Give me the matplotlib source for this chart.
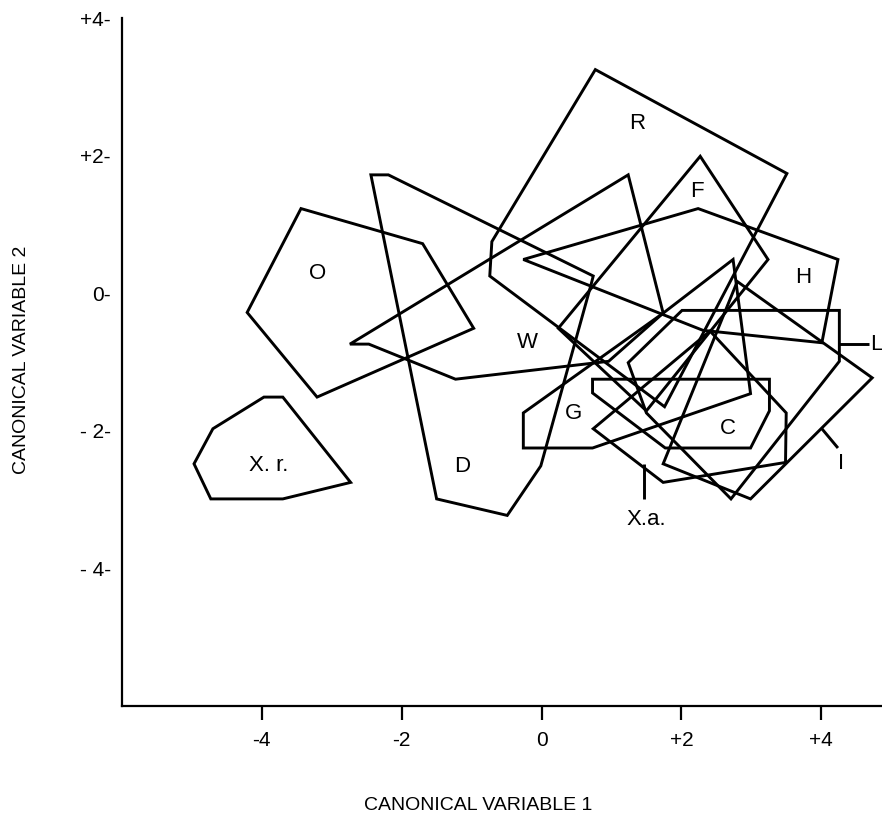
import matplotlib.pyplot as plt
from matplotlib.patches import Polygon

# group outlines (canonical variable 1, canonical variable 2)
poly_xr = [(-3.97, -1.51), (-3.70, -1.51), (-2.73, -2.75), (-3.70, -2.99),
           (-4.73, -2.99), (-4.97, -2.48), (-4.70, -1.97)]
poly_o = [(-3.44, 1.23), (-1.70, 0.72), (-0.97, -0.51), (-3.21, -1.51), (-4.21, -0.28)]
poly_d = [(-2.44, 1.72), (-2.19, 1.72), (0.74, 0.25), (0.71, 0.13),
          (-0.01, -2.51), (-0.49, -3.23), (-1.50, -2.99)]
poly_w = [(-2.74, -0.74), (-2.47, -0.74), (-1.23, -1.25), (0.96, -0.99),
          (1.74, -0.29), (1.24, 1.72)]
poly_r = [(0.77, 3.25), (3.51, 1.74), (1.76, -1.65), (-0.74, 0.25), (-0.71, 0.75)]
poly_f = [(2.27, 1.99), (3.24, 0.49), (1.50, -1.71), (0.24, -0.51)]
poly_h = [(-0.26, 0.49), (2.24, 1.23), (4.24, 0.49), (4.01, -0.72), (2.31, -0.54)]
poly_l = [(2.01, -0.25), (4.26, -0.25), (4.26, -0.99), (2.71, -2.99), (1.50, -1.74), (1.24, -1.01)]
poly_g = [(-0.26, -2.25), (-0.26, -1.74), (1.74, -0.29), (2.74, 0.49), (2.99, -1.46), (0.73, -2.25)]
poly_c = [(0.73, -1.25), (3.26, -1.25), (3.26, -1.71), (2.99, -2.25), (1.77, -2.25), (0.73, -1.45)]
poly_xa = [(2.41, -0.55), (3.50, -1.74), (3.49, -2.46), (1.74, -2.75), (0.74, -1.97)]
poly_i = [(2.80, 0.17), (4.73, -1.23), (2.99, -2.99), (1.74, -2.48)]

# group labels
label_text = ['O', 'X. r.', 'D', 'W', 'R', 'F', 'H', 'L', 'G', 'C', 'I', 'X.a.']
label_x = [-3.20, -3.90, -1.13, -0.20, 1.37, 2.23, 3.74, 4.70, 0.46, 2.66, 4.29, 1.50]
label_y = [0.29, -2.51, -2.52, -0.72, 2.46, 1.48, 0.23, -0.74, -1.75, -1.97, -2.47, -3.29]

# leader lines for labels set outside their outline
leader_l = [(4.26, -0.74), (4.68, -0.74)]
leader_i = [(4.01, -1.97), (4.24, -2.25)]
leader_xa = [(1.47, -2.48), (1.47, -2.99)]

xticks = [-4, -2, 0, 2, 4]
xtick_labels = ['-4', '-2', '0', '+2', '+4']
yticks = [4, 2, 0, -2, -4]
ytick_labels = ['+4-', '+2-', '0-', '- 2-', '- 4-']

plt.rcParams['font.family'] = ['Liberation Sans', 'DejaVu Sans']

fig = plt.figure(figsize=(8.82, 8.18), dpi=100)
ax = fig.add_axes([122 / 882, 1 - 706 / 818, 1 - 122 / 882, 688 / 818])
ax.set_xlim(-6, 4.87)
ax.set_ylim(-6, 4)

for pts in [poly_xr, poly_o, poly_d, poly_w, poly_r, poly_f, poly_h,
            poly_l, poly_g, poly_c, poly_xa, poly_i]:
    ax.add_patch(Polygon(pts, closed=True, fill=False, edgecolor='black',
                         linewidth=2.1, joinstyle='miter'))

for seg in [leader_l, leader_i, leader_xa]:
    ax.plot([p[0] for p in seg], [p[1] for p in seg], color='black', lw=2.1,
            solid_capstyle='butt', clip_on=False)

for t, x, y in zip(label_text, label_x, label_y):
    ha = 'left' if t == 'L' else 'center'
    ax.text(x, y, t, fontsize=16, ha=ha, va='center', clip_on=False)

for s in ['top', 'right']:
    ax.spines[s].set_visible(False)
for s in ['left', 'bottom']:
    ax.spines[s].set_linewidth(1.6)

ax.set_xticks(xticks)
ax.set_xticklabels(xtick_labels, fontsize=15)
ax.set_yticks(yticks)
ax.set_yticklabels(ytick_labels, fontsize=15)
ax.tick_params(axis='x', direction='out', length=10, width=1.6, pad=8)
ax.tick_params(axis='y', length=0, pad=8)

fig.text(478 / 882, 1 - 805 / 818, 'CANONICAL VARIABLE 1', fontsize=14,
         ha='center', va='center')
fig.text(22 / 882, 1 - 360 / 818, 'CANONICAL VARIABLE 2', fontsize=14, rotation=90,
         ha='center', va='center')

fig.savefig('out.png', dpi=100)
